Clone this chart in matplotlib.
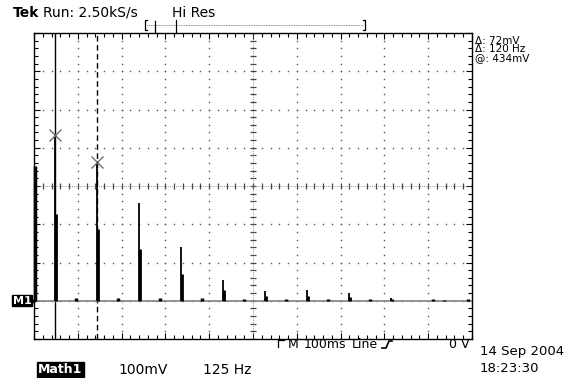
import numpy as np
import matplotlib
matplotlib.use("Agg")
import matplotlib.pyplot as plt
from matplotlib.lines import Line2D
from matplotlib.ticker import MultipleLocator

# Math1 = FFT of the line signal, 125 Hz/div, 100 mV/div, 0 V reference at M1
harmonic_hz = [60, 180, 300, 420, 540, 660, 780, 900, 1020]
peak_mv = [434, 362, 255, 140, 54, 26, 27, 20, 8]
shoulder_mv = [226, 187, 135, 69, 27, 13, 13, 9, 4]
even_hz = [120, 240, 360, 480, 600, 720, 840, 960, 1140, 1170, 1240]
even_mv = [6, 6, 6, 6, 5, 4, 4, 4, 4, 3, 4]
dc_mv = 352

cursor_hz = [60, 180]
cursor_mv = [434, 362]

W, H = 575, 378
fig = plt.figure(figsize=(W / 100, H / 100), dpi=100)
fig.patch.set_facecolor("white")

# screen area in pixels
left, right, top, bottom = 34, 472, 33, 339
ax = fig.add_axes([left / W, 1 - bottom / H, (right - left) / W, (bottom - top) / H])
ax.set_xlim(0, 1250)
ax.set_ylim(-100, 700)
for s in ax.spines.values():
    s.set_color("black")
    s.set_linewidth(1.0)

# graticule ticks on the frame
ax.xaxis.set_major_locator(MultipleLocator(125))
ax.xaxis.set_minor_locator(MultipleLocator(25))
ax.yaxis.set_major_locator(MultipleLocator(100))
ax.yaxis.set_minor_locator(MultipleLocator(20))
ax.tick_params(which="both", direction="in", top=True, right=True,
               labelbottom=False, labelleft=False, color="black", width=0.8)
ax.tick_params(which="major", length=4)
ax.tick_params(which="minor", length=3)

# dotted graticule
dot = dict(ls="none", marker="s", ms=1.0, color="#555555", mew=0)
ys = np.arange(-100, 701, 20)
xs = np.arange(0, 1251, 25)
for gx in np.arange(125, 1250, 125):
    if gx != 625:
        ax.plot(np.full_like(ys, gx), ys, **dot)
for gy in np.arange(0, 700, 100):
    if gy != 300:
        ax.plot(xs, np.full_like(xs, gy), **dot)

# centre cross with ticks
ax.plot(np.full_like(ys, 625), ys, ls="none", marker="_", ms=4, color="#444444", mew=0.9)
ax.plot(xs, np.full_like(xs, 300), ls="none", marker="|", ms=4, color="#444444", mew=0.9)
ax.axvline(625, color="#777777", lw=0.6, ls=(0, (1, 1.5)))
ax.axhline(300, color="#777777", lw=0.6, ls=(0, (1, 1.5)))

# cursors
ax.axvline(cursor_hz[0], color="black", lw=1.0)
ax.axvline(cursor_hz[1], color="black", lw=1.0, ls=(0, (4, 2.5)))

# spectrum trace
ax.axhline(0, color="#8a8a8a", lw=1.3, zorder=3)
ax.vlines(harmonic_hz, 0, peak_mv, color="black", lw=1.3, zorder=4)
ax.vlines(np.array(harmonic_hz) + 2.5, 0, shoulder_mv, color="black", lw=2.0, zorder=4)
ax.vlines(even_hz, 0, even_mv, color="black", lw=2.5, zorder=4)
ax.vlines([2], 0, dc_mv, color="black", lw=2.5, zorder=4, clip_on=False)

# cursor markers
ax.plot(cursor_hz, cursor_mv, ls="none", marker="x", ms=9, mew=1.0, color="#707070", zorder=5)


def fx(px):
    return px / W


def fy(py):
    return 1 - py / H


def pline(xp, yp, **kw):
    fig.add_artist(Line2D([fx(v) for v in xp], [fy(v) for v in yp],
                          transform=fig.transFigure, **kw))


font = "DejaVu Sans"

# header
fig.text(fx(13), fy(13), "Tek", fontsize=10, fontweight="bold", family=font, va="center")
fig.text(fx(43), fy(13), "Run: 2.50kS/s", fontsize=10, family=font, va="center")
fig.text(fx(172), fy(13), "Hi Res", fontsize=10, family=font, va="center")

# record bar
pline([147, 145, 145, 147], [20, 20, 30, 30], color="black", lw=0.9)
pline([363, 365, 365, 363], [20, 20, 30, 30], color="black", lw=0.9)
pline([147, 363], [25, 25], color="#666666", lw=0.6, ls=(0, (1, 1)))
pline([155, 155], [21, 32], color="black", lw=0.9)
pline([176, 176], [20, 32], color="black", lw=0.9)

# cursor readouts
fig.text(fx(475), fy(40.5), "\u0394: 72mV", fontsize=7.5, family=font, va="center")
fig.text(fx(475), fy(49.5), "\u0394: 120 Hz", fontsize=7.5, family=font, va="center")
fig.text(fx(475), fy(58.5), "@: 434mV", fontsize=7.5, family=font, va="center")

# M1 reference marker
fig.text(fx(13), fy(300.5), "M1", fontsize=8, fontweight="bold", family=font,
         color="white", va="center",
         bbox=dict(boxstyle="square,pad=0.05", fc="black", ec="black"))
fig.add_artist(Line2D([fx(32)], [fy(300.5)], marker=">", ms=4, color="black",
                      transform=fig.transFigure))

# lower readout line
pline([278, 278, 284], [347, 340, 340], color="black", lw=0.9)
fig.text(fx(288), fy(345), "M", fontsize=9, family=font, va="center")
fig.text(fx(304), fy(345), "100ms", fontsize=9, family=font, va="center")
fig.text(fx(352), fy(345), "Line", fontsize=9, family=font, va="center")
pline([382, 386, 389, 392], [348, 348, 341, 341], color="black", lw=1.2)
fig.text(fx(449), fy(345), "0 V", fontsize=9, family=font, va="center")

fig.text(fx(480), fy(352), "14 Sep 2004", fontsize=9.5, family=font, va="center")
fig.text(fx(480), fy(368), "18:23:30", fontsize=9.5, family=font, va="center")

fig.text(fx(38), fy(369.5), "Math1", fontsize=9, fontweight="bold", family=font,
         color="white", va="center",
         bbox=dict(boxstyle="square,pad=0.1", fc="black", ec="black"))
fig.text(fx(118), fy(369.5), "100mV", fontsize=10, family=font, va="center")
fig.text(fx(203), fy(369.5), "125 Hz", fontsize=10, family=font, va="center")

fig.savefig("out.png", dpi=100, facecolor="white")
